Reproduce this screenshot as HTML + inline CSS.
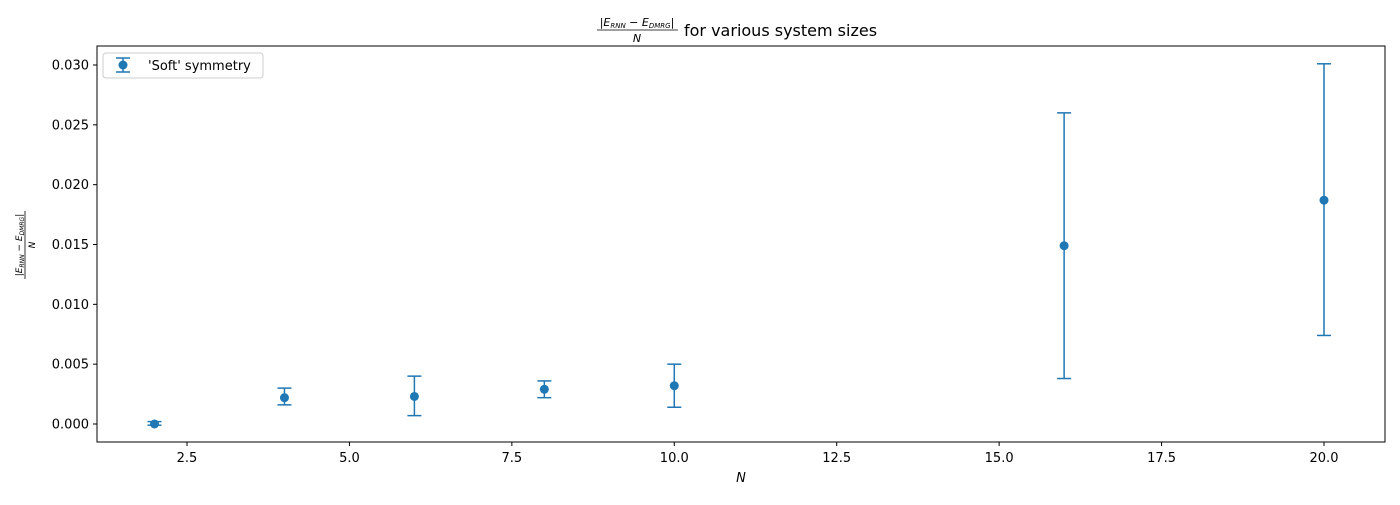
<!DOCTYPE html>
<html><head><meta charset="utf-8"><style>
body{margin:0;background:#fff;font-family:"Liberation Sans","DejaVu Sans",sans-serif;}
svg text{font-family:"DejaVu Sans","Liberation Sans",sans-serif;}
</style></head><body>
<svg id="chart" width="1400" height="500" viewBox="0 0 1400 500">
<rect x="0" y="0" width="1400" height="500" fill="#fff"/>
<g id="title">
 <text x="637" y="26" font-size="11" font-style="italic" text-anchor="middle">|E<tspan font-size="7" dy="2">RNN</tspan><tspan dy="-2"> − E</tspan><tspan font-size="7" dy="2">DMRG</tspan><tspan dy="-2">|</tspan></text>
 <line x1="597" y1="30" x2="678" y2="30" stroke="#000" stroke-width="0.8"/>
 <text x="637" y="42" font-size="11" font-style="italic" text-anchor="middle">N</text>
 <text x="684" y="36" font-size="16">for various system sizes</text>
</g>
<g transform="translate(25,245) rotate(-90)">
 <text x="0" y="-3" font-size="9" font-style="italic" text-anchor="middle">|E<tspan font-size="6" dy="2">RNN</tspan><tspan dy="-2"> − E</tspan><tspan font-size="6" dy="2">DMRG</tspan><tspan dy="-2">|</tspan></text>
 <line x1="-34" y1="0" x2="34" y2="0" stroke="#000" stroke-width="0.8"/>
 <text x="0" y="10" font-size="9" font-style="italic" text-anchor="middle">N</text>
</g>
<text x="741" y="482" font-size="13" font-style="italic" text-anchor="middle">N</text>
<g id="axes"></g>
<g id="marks"></g>
<rect x="97" y="46" width="1288" height="396" fill="none" stroke="#000" stroke-width="1"/>
<g>
 <rect x="103" y="53" width="160" height="25" rx="3" fill="#fff" stroke="#ccc"/>
 <g>
  <line x1="123" y1="58" x2="123" y2="72" stroke="#1f77b4" stroke-width="1.5"/>
  <line x1="116" y1="58" x2="130" y2="58" stroke="#1f77b4" stroke-width="1.5"/>
  <line x1="116" y1="72" x2="130" y2="72" stroke="#1f77b4" stroke-width="1.5"/>
  <circle cx="123" cy="65" r="4.5" fill="#1f77b4"/>
  <text x="148" y="70" font-size="13">'Soft' symmetry</text>
 </g>
</g>
</svg>
<script>
const nValues=[2,4,6,8,10,16,20];
const errValues=[0.0000,0.0022,0.0023,0.0029,0.0032,0.0149,0.0187];
const errLower=[-0.0001,0.0016,0.0007,0.0022,0.0014,0.0038,0.0074];
const errUpper=[0.0002,0.0030,0.0040,0.0036,0.0050,0.0260,0.0301];
const xTicks=[2.5,5.0,7.5,10.0,12.5,15.0,17.5,20.0];
const xTickLabels=["2.5","5.0","7.5","10.0","12.5","15.0","17.5","20.0"];
const yTicks=[0,0.005,0.010,0.015,0.020,0.025,0.030];
const yTickLabels=["0.000","0.005","0.010","0.015","0.020","0.025","0.030"];
const NS="http://www.w3.org/2000/svg";
function xS(v){return 187+(v-2.5)*(1324-187)/17.5;}
function yS(v){return 424-v*(424-65)/0.030;}
function mk(t,a,p){const e=document.createElementNS(NS,t);for(const k in a)e.setAttribute(k,a[k]);p.appendChild(e);return e;}
const axes=document.getElementById('axes'),marks=document.getElementById('marks');
xTicks.forEach((v,i)=>{const g=mk('g',{},axes);


mk('line',{x1:xS(v),x2:xS(v),y1:442,y2:446,stroke:'#000'},g);
const t=mk('text',{x:xS(v),y:462,'font-size':13,'text-anchor':'middle'},g);t.textContent=xTickLabels[i];});
yTicks.forEach((v,i)=>{const g=mk('g',{},axes);


mk('line',{x1:93,x2:97,y1:yS(v),y2:yS(v),stroke:'#000'},g);
const t=mk('text',{x:89,y:yS(v)+4.5,'font-size':13,'text-anchor':'end'},g);t.textContent=yTickLabels[i];});
nValues.forEach((n,i)=>{const g=mk('g',{},marks);


const x=xS(n),lo=yS(errLower[i]),hi=yS(errUpper[i]);
mk('line',{x1:x,x2:x,y1:lo,y2:hi,stroke:'#1f77b4','stroke-width':1.5},g);
mk('line',{x1:x-7,x2:x+7,y1:lo,y2:lo,stroke:'#1f77b4','stroke-width':1.5},g);
mk('line',{x1:x-7,x2:x+7,y1:hi,y2:hi,stroke:'#1f77b4','stroke-width':1.5},g);
mk('circle',{cx:x,cy:yS(errValues[i]),r:4.5,fill:'#1f77b4'},g);});
</script>
</body></html>
